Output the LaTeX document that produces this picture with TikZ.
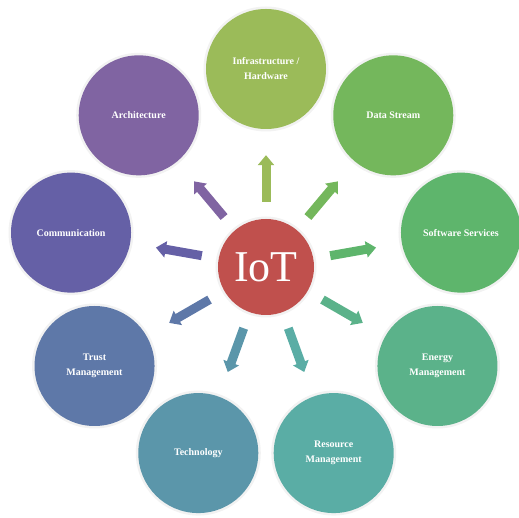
\documentclass[tikz,border=0pt]{standalone}
\usepackage{fontspec}
\setmainfont{Liberation Serif}
\usepackage{tikz}
\usetikzlibrary{arrows.meta}
\definecolor{iotred}{RGB}{192,80,77}
\definecolor{infra}{RGB}{155,187,89}
\definecolor{data}{RGB}{116,183,92}
\definecolor{soft}{RGB}{94,181,108}
\definecolor{energy}{RGB}{91,178,138}
\definecolor{resource}{RGB}{90,173,165}
\definecolor{techno}{RGB}{91,150,170}
\definecolor{trust}{RGB}{94,120,168}
\definecolor{comm}{RGB}{101,96,166}
\definecolor{archi}{RGB}{128,100,162}
\tikzstyle{topic}=[circle, minimum size=120pt, inner sep=0pt,
                   text=white, align=center,
                   font=\bfseries\fontsize{10}{15}\selectfont,
                   preaction={draw=black!5, line width=5pt}]
\tikzstyle{hub}  =[circle, fill=iotred, minimum size=96pt,
                   inner sep=0pt, text=white,
                   font=\fontsize{44}{44}\selectfont,
                   preaction={draw=black!5, line width=5pt}]
\tikzstyle{spoke}=[line width=9pt, -{Triangle[width=16pt,length=10pt]},
                   shorten <=17pt, shorten >=26pt]

\begin{document}
\begin{tikzpicture}[x=1pt, y=1pt]
    \useasboundingbox (-266,-251) rectangle (253,267);

    \node[hub] (c) at (0,0) {IoT};

    \foreach \i/\col/\txt in {0/infra/{Infrastructure /\\Hardware},
                              1/data/{Data Stream},
                              2/soft/{Software Services},
                              3/energy/{Energy\\Management},
                              4/resource/{Resource\\Management},
                              5/techno/{Technology},
                              6/trust/{Trust\\Management},
                              7/comm/{Communication},
                              8/archi/{Architecture}}{
        \node[topic, fill=\col] (\i) at ({90-40*\i}:198) {\txt};
        \draw[spoke, \col] (c) -- (\i);
    }
\end{tikzpicture}
\end{document}
